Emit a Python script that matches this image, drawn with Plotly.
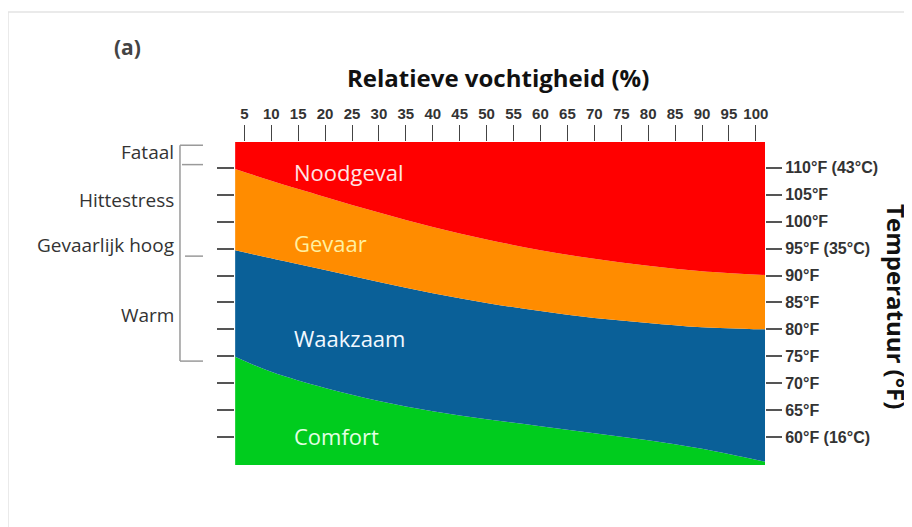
import plotly.graph_objects as go

# ---- data ----
humidity = [3.3, 10, 20, 30, 40, 50, 60, 70, 80, 90, 101.7]
red_orange = [109.8, 107.6, 104.6, 101.7, 99.0, 96.7, 94.7, 93.1, 91.8, 90.8, 90.1]
orange_blue = [94.7, 93.2, 91.0, 88.8, 86.7, 84.9, 83.4, 82.1, 81.2, 80.4, 80.0]
blue_green = [74.9, 72.1, 69.1, 66.7, 64.8, 63.3, 62.0, 60.7, 59.4, 57.8, 55.4]
y_min, y_max = 54.8, 114.8
x_min, x_max = 3.27, 101.7

x_ticks = list(range(5, 101, 5))
temp_ticks = [110, 105, 100, 95, 90, 85, 80, 75, 70, 65, 60]
temp_labels = ["110°F (43°C)", "105°F", "100°F", "95°F (35°C)", "90°F", "85°F",
               "80°F", "75°F", "70°F", "65°F", "60°F (16°C)"]

zones = ["Noodgeval", "Gevaar", "Waakzaam", "Comfort"]
zone_temps = [109.2, 96.0, 78.4, 60.2]
zone_colors = ["#FFE4E4", "#FFF0A0", "#F2F8FF", "#E4FFE4"]
zone_x = 13.9

side_labels = ["Fataal", "Hittestress", "Gevaarlijk hoog", "Warm"]
side_temps = [113.0, 104.0, 95.6, 82.6]
bracket_temps = [114.2, 110.6, 93.6, 74.1]

RED, ORANGE, BLUE, GREEN = "#FF0000", "#FF8C00", "#0A6098", "#00CC1E"

fig = go.Figure()
n = len(humidity)
fig.add_trace(go.Scatter(x=humidity, y=[y_min] * n, mode="lines", line=dict(width=0),
                         hoverinfo="skip", showlegend=False))
for ys, col in [(blue_green, GREEN), (orange_blue, BLUE), (red_orange, ORANGE), ([y_max] * n, RED)]:
    fig.add_trace(go.Scatter(x=humidity, y=ys, mode="lines", line=dict(width=0, shape="spline"),
                             fill="tonexty", fillcolor=col, hoverinfo="skip", showlegend=False))
# invisible trace for left tick axis
fig.add_trace(go.Scatter(x=[x_min], y=[y_min], yaxis="y2", mode="markers",
                         marker=dict(opacity=0), hoverinfo="skip", showlegend=False))

fig.update_layout(
    width=904, height=519,
    margin=dict(l=227, r=147, t=134, b=62),
    paper_bgcolor="white", plot_bgcolor="white",
    xaxis=dict(range=[x_min, x_max], side="top", tickvals=x_ticks, ticks="outside",
               ticklen=16, tickwidth=1.3, tickcolor="#444", showgrid=False, zeroline=False,
               showline=False,
               tickfont=dict(family="Liberation Sans", size=15, color="#333", weight="bold")),
    yaxis=dict(range=[y_min, y_max], side="right", tickvals=temp_ticks, ticktext=temp_labels,
               ticks="outside", ticklen=16, tickwidth=1.5, tickcolor="#555", showgrid=False,
               zeroline=False, showline=False,
               tickfont=dict(family="Liberation Sans", size=16, color="#333", weight="bold")),
    yaxis2=dict(range=[y_min, y_max], overlaying="y", side="left", tickvals=temp_ticks,
                ticks="outside", ticklen=17, tickwidth=1.5, tickcolor="#555", showgrid=False,
                zeroline=False, showline=False, showticklabels=False),
)

ann = []
ann.append(dict(text="<b>Relatieve vochtigheid (%)</b>", xref="paper", yref="paper", x=0.496, y=1.201,
                xanchor="center", yanchor="middle",
                showarrow=False, font=dict(family="Open Sans", size=24, color="#111")))
ann.append(dict(text="<b>(a)</b>", xref="paper", yref="paper", x=-0.2019, y=1.294,
                xanchor="center", yanchor="middle",
                showarrow=False, font=dict(family="Open Sans", size=21, color="#444")))
ann.append(dict(text="<b>Temperatuur (°F)</b>", xref="paper", yref="paper", x=1.249, y=0.489,
                xanchor="center", yanchor="middle",
                textangle=90, showarrow=False, font=dict(family="Open Sans", size=24, color="#111")))
for t, yv, c in zip(zones, zone_temps, zone_colors):
    ann.append(dict(text=t, x=zone_x, y=yv, xref="x", yref="y", xanchor="left", yanchor="middle",
                    showarrow=False, font=dict(family="Open Sans", size=22, color=c)))
for t, yv in zip(side_labels, side_temps):
    ann.append(dict(text=t, x=-0.111, y=yv, xref="paper", yref="y", xanchor="right", yanchor="middle",
                    showarrow=False, font=dict(family="Open Sans", size=19, color="#333")))
fig.update_layout(annotations=ann)

gray = dict(color="#9a9a9a", width=1.5)
shapes = [
    dict(type="line", xref="paper", yref="y", x0=-0.1038, x1=-0.1038,
         y0=bracket_temps[0], y1=bracket_temps[3], line=gray),
    dict(type="line", xref="paper", yref="y", x0=-0.1038, x1=-0.0604,
         y0=bracket_temps[0], y1=bracket_temps[0], line=gray),
    dict(type="line", xref="paper", yref="y", x0=-0.1000, x1=-0.0604,
         y0=bracket_temps[1], y1=bracket_temps[1], line=gray),
    dict(type="line", xref="paper", yref="y", x0=-0.0943, x1=-0.0604,
         y0=bracket_temps[2], y1=bracket_temps[2], line=gray),
    dict(type="line", xref="paper", yref="y", x0=-0.1038, x1=-0.0604,
         y0=bracket_temps[3], y1=bracket_temps[3], line=gray),
    # outer frame (top and left)
    dict(type="line", xref="paper", yref="paper", x0=-0.4283, x1=1.3, y0=1.4025, y1=1.4025,
         line=dict(color="#e3e3e3", width=1.5)),
    dict(type="line", xref="paper", yref="paper", x0=-0.4283, x1=-0.4283, y0=1.4025, y1=-0.25,
         line=dict(color="#e3e3e3", width=1.5)),
]
fig.update_layout(shapes=shapes)

fig.write_html("out.html")
